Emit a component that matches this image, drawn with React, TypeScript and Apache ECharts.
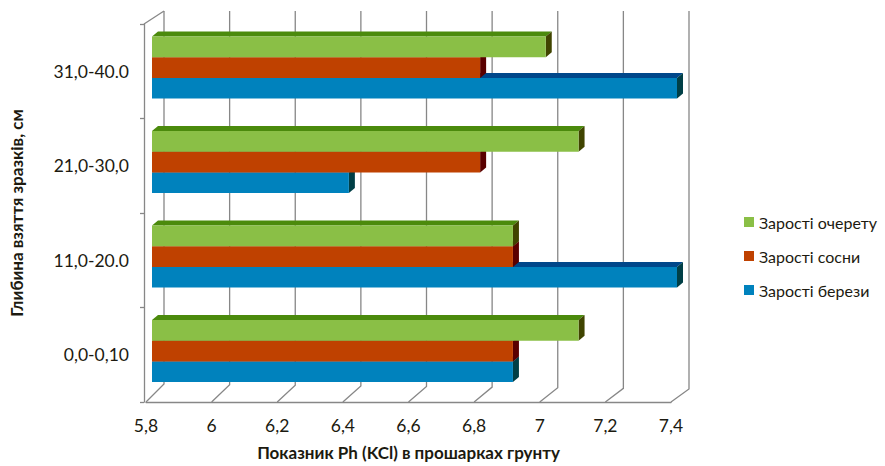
import React, { useEffect, useRef } from "react";
import * as echarts from "echarts";

const categories = ["0,0-0,10", "11,0-20.0", "21,0-30,0", "31,0-40.0"];
const birch = [6.9, 7.4, 6.4, 7.4];
const pine = [6.9, 6.9, 6.8, 6.8];
const reed = [7.1, 6.9, 7.1, 7.0];
const xTicks = [5.8, 6.0, 6.2, 6.4, 6.6, 6.8, 7.0, 7.2, 7.4];
const xMin = 5.8;
const xMax = 7.4;
const xStep = 0.2;

const seriesNames = ["Зарості берези", "Зарості сосни", "Зарості очерету"];
const seriesValues = [birch, pine, reed];
const legendOrder = ["Зарості очерету", "Зарості сосни", "Зарості берези"];

const palette = [
  { front: "#0082bd", top: "#00478a", side: "#003f46" },
  { front: "#bf4100", top: "#7a2000", side: "#5a0000" },
  { front: "#8abf46", top: "#4b8a0c", side: "#404400" },
];

const FONT = "Lato, 'Open Sans', sans-serif";
const TEXT = "#1c1a10";

export default function App() {
  const ref = useRef<HTMLDivElement>(null);
  useEffect(() => {
    if (!ref.current) return;
    const chart = echarts.init(ref.current, null, { renderer: "svg" });
    const barDX = 6;
    const depth = 6;
    const depthY = 5;

    const gridSeries: any = {
      type: "custom",
      silent: true,
      z: 1,
      data: xTicks.map((v) => [v, 0]),
      renderItem: (params: any, api: any) => {
        const v = api.value(0);
        const cs = params.coordSys;
        const x = api.coord([v, 0])[0];
        const bottom = cs.y + cs.height;
        const frac = (x - cs.x) / cs.width;
        const bx = x + 18;
        const by = bottom - 18 + 5 * frac;
        const topY = cs.y - 13;
        const children: any[] = [
          {
            type: "polyline",
            shape: { points: [[x, bottom], [bx, by], [bx, topY]] },
            style: { stroke: "#878787", lineWidth: 1.3, fill: null },
          },
        ];
        if (params.dataIndex === 0) {
          children.push({
            type: "line",
            shape: { x1: cs.x - 2, y1: cs.y, x2: bx, y2: topY },
            style: { stroke: "#878787", lineWidth: 1.3 },
          });
        }
        return { type: "group", children };
      },
    };

    const barSeries = seriesNames.map((name, idx) => ({
      name,
      type: "custom",
      z: 2,
      itemStyle: { color: palette[idx].front },
      data: seriesValues[idx].map((v, i) => [v, i]),
      encode: { x: 0, y: 1 },
      renderItem: (params: any, api: any) => {
        const v = api.value(0);
        const c = api.value(1);
        const end = api.coord([v, c]);
        const start = api.coord([xMin, c]);
        const band = api.size([0, 1])[1];
        const h = band * 0.219;
        const cy = end[1] - band * 0.039 + (1 - idx) * h;
        const x0 = start[0] + barDX;
        const x1 = end[0] + barDX;
        const y0 = cy - h / 2;
        const y1 = cy + h / 2;
        const p = palette[idx];
        return {
          type: "group",
          children: [
            {
              type: "polygon",
              shape: { points: [[x0, y0], [x1, y0], [x1 + depth, y0 - depthY], [x0 + depth, y0 - depthY]] },
              style: { fill: p.top },
            },
            {
              type: "polygon",
              shape: { points: [[x1, y0], [x1 + depth, y0 - depthY], [x1 + depth, y1 - depthY], [x1, y1]] },
              style: { fill: p.side },
            },
            {
              type: "rect",
              shape: { x: x0, y: y0, width: x1 - x0, height: y1 - y0 },
              style: { fill: p.front },
            },
          ],
        };
      },
    }));

    chart.setOption({
      animation: false,
      backgroundColor: "#ffffff",
      textStyle: { fontFamily: FONT },
      grid: { left: 139, top: 24, width: 532, height: 389, containLabel: false },
      legend: {
        data: legendOrder,
        orient: "vertical",
        left: 739,
        top: 209,
        itemWidth: 10,
        itemHeight: 10,
        itemGap: 18,
        icon: "rect",
        textStyle: { fontFamily: FONT, fontSize: 16, color: TEXT },
      },
      xAxis: {
        type: "value",
        min: xMin,
        max: xMax,
        interval: xStep,
        splitLine: { show: false },
        axisTick: { show: false },
        axisLine: { show: true, lineStyle: { color: "#878787", width: 1.3 } },
        axisLabel: {
          margin: 14,
          fontFamily: FONT,
          fontSize: 17.5,
          color: TEXT,
          formatter: (v: number) => String(+v.toFixed(1)).replace(".", ","),
        },
        name: "Показник Ph (KCl) в прошарках грунту",
        nameLocation: "middle",
        nameGap: 42,
        nameTextStyle: { fontFamily: FONT, fontSize: 17, fontWeight: "bold", color: TEXT },
      },
      yAxis: {
        type: "category",
        data: categories,
        offset: 2,
        axisLine: { show: true, lineStyle: { color: "#878787", width: 1.3 } },
        axisTick: { show: true, length: 4, lineStyle: { color: "#878787", width: 1.3 } },
        axisLabel: { margin: 15, fontFamily: FONT, fontSize: 17.5, color: TEXT },
        name: "Глибина взяття зразків, см",
        nameLocation: "middle",
        nameRotate: 90,
        nameGap: 119,
        nameTextStyle: { fontFamily: FONT, fontSize: 17, fontWeight: "bold", color: TEXT },
      },
      series: [gridSeries, ...barSeries],
    });
    return () => chart.dispose();
  }, []);
  return (
    <div
      ref={ref}
      style={{ position: "fixed", left: 0, top: 0, width: 885, height: 466, background: "#fff" }}
    />
  );
}
